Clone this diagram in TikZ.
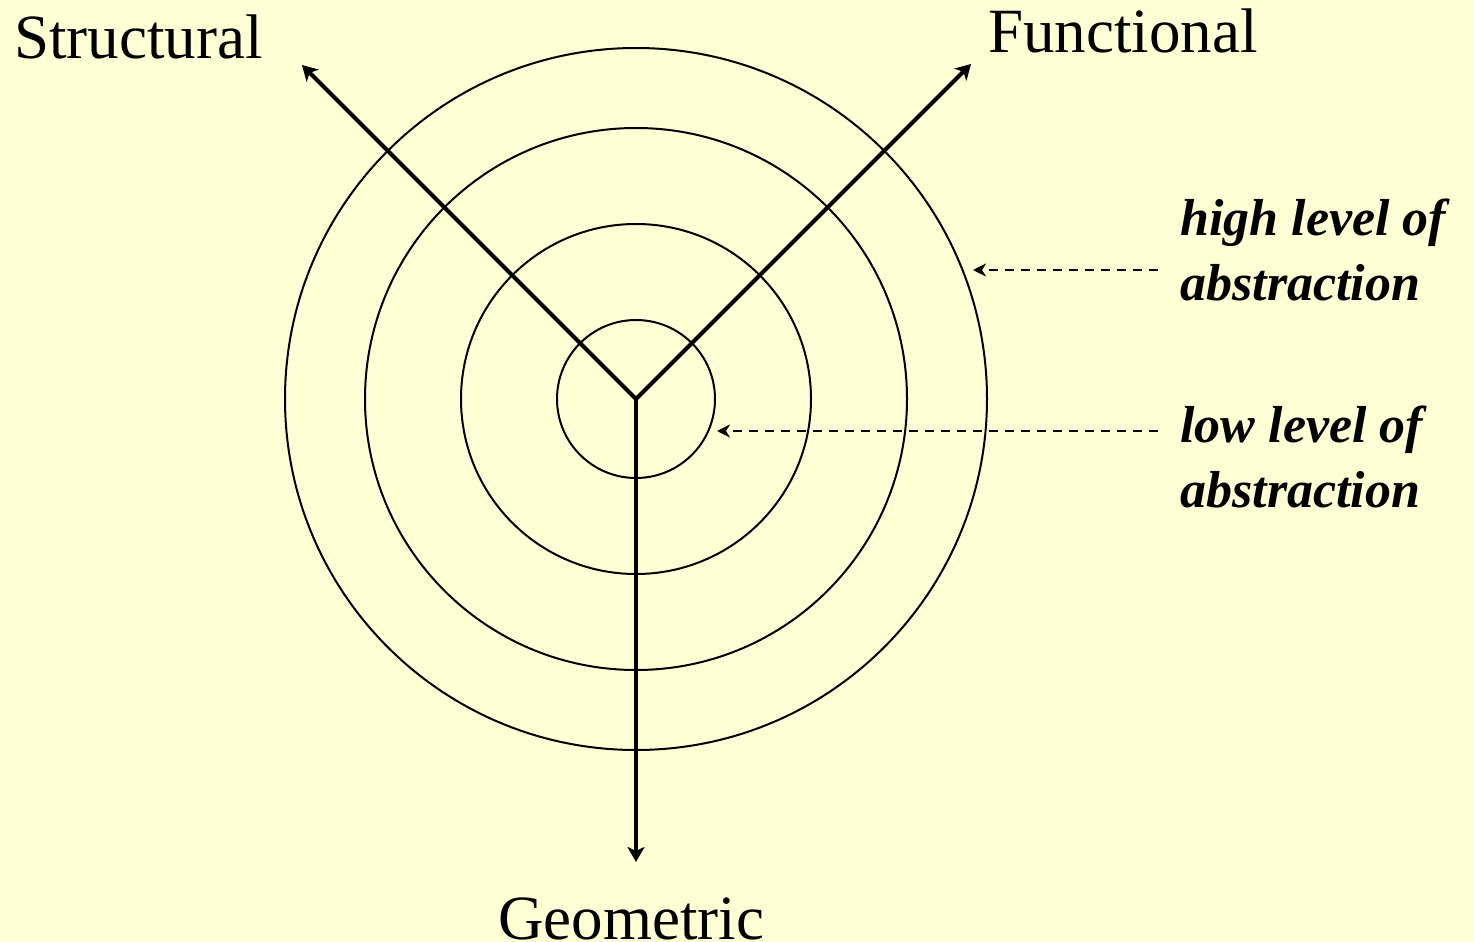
\documentclass[tikz,border=0pt]{standalone}
\usepackage{fontspec}
\setmainfont{Liberation Serif}
\usetikzlibrary{arrows.meta}
\definecolor{paper}{RGB}{255,255,214}

\begin{document}
\begin{tikzpicture}[
    x=0.5pt, y=-0.5pt,
    axis/.style={line width=2pt, line join=miter},
    tip/.tip={Stealth[length=7.5pt, width=8.5pt, inset=2pt]},
    ring/.style={draw, circle, line width=1pt, inner sep=0pt},
    hint/.style={line width=1pt, dash pattern=on 4.5pt off 3.5pt,
      -{Stealth[length=6.5pt, width=6.5pt, inset=2pt]}},
    dim/.style={font=\fontsize{31.5}{36}\selectfont, inner sep=0pt},
    note/.style={font=\fontsize{26}{32.5}\selectfont\bfseries\itshape,
      align=left, inner sep=0pt},
  ]
    % 背景
    \fill[paper] (0,0) rectangle (1474,942);
    \useasboundingbox (0,0) rectangle (1474,942);

    % 中心点
    \coordinate (o) at (636,399);

    % 同心圆
    \foreach \r/\n in {79/c1, 175/c2, 271/c3, 351/c4}
      \node[ring, minimum size=\r*1pt] (\n) at (o) {};

    % 三个轴
    \coordinate (s) at (302,65);
    \coordinate (f) at (971,64);
    \coordinate (g) at (636,862);
    \draw[axis, tip-tip] (s) -- (o) -- (f);
    \draw[axis, -tip] (o) -- (g);

    % 轴端标签
    \node[dim, anchor=base west] (structural) at (14,58) {Structural};
    \node[dim, anchor=base west] (functional) at (988,53) {Functional};
    \node[dim, anchor=base] (geometric) at (631,939) {Geometric};

    % 右侧说明
    \node[note, anchor=north west] (high) at (1180,198) {high level of\\abstraction};
    \node[note, anchor=north west] (low) at (1180,405) {low level of\\abstraction};

    % 虚线箭头
    \coordinate (highS) at (1158,270);
    \coordinate (highE) at (973,270);
    \coordinate (lowS) at (1158,431);
    \coordinate (lowE) at (717,431);
    \draw[hint] (highS) -- (highE);
    \draw[hint] (lowS) -- (lowE);
  \end{tikzpicture}
\end{document}
